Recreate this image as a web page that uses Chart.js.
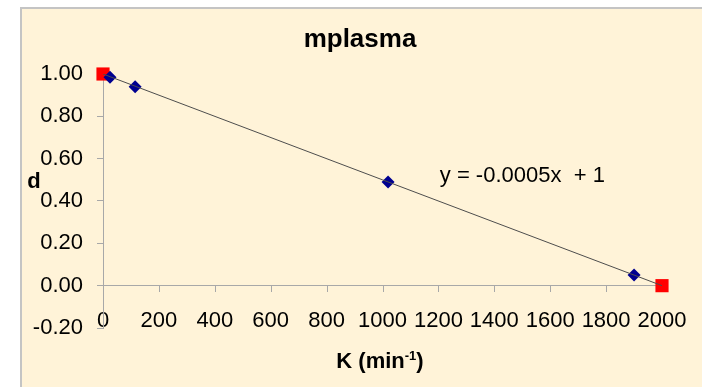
<!DOCTYPE html>
<html>
<head>
<meta charset="utf-8">
<script src="https://cdn.jsdelivr.net/npm/chart.js@4.4.1/dist/chart.umd.min.js"></script>
<style>
  html, body { margin: 0; padding: 0; background: #fff; }
</style>
</head>
<body>
<canvas id="grafico" width="702" height="387"></canvas>
<script>
// pontos medidos (losangos azuis)
const kMedidos = [25, 115, 1020, 1900];
const dMedidos = [0.985, 0.94, 0.49, 0.05];
// extremos (quadrados vermelhos)
const kExtremos = [0, 2000];
const dExtremos = [1.0, 0.0];
// linha de tendencia y = -0.0005x + 1
const kTendencia = [0, 2000];
const dTendencia = [1, 0];
// marcas dos eixos
const ticksX = [0, 200, 400, 600, 800, 1000, 1200, 1400, 1600, 1800, 2000];
const ticksY = [-0.2, 0, 0.2, 0.4, 0.6, 0.8, 1.0];

const FONTE = "'Liberation Sans', Arial, sans-serif";
const CINZA = '#a8a8a8';

const pares = (xs, ys) => xs.map((x, i) => ({ x: x, y: ys[i] }));

// fundo creme com borda cinza em cima e a esquerda
const fundo = {
    id: 'fundo',
    beforeDraw(chart) {
        const c = chart.ctx;
        c.save();
        c.fillStyle = '#fff';
        c.fillRect(0, 0, chart.width, chart.height);
        c.fillStyle = '#fff3d8';
        c.fillRect(22, 9, chart.width - 22, chart.height - 9);
        c.fillStyle = '#c4c4c4';
        c.fillRect(20, 7, chart.width - 20, 2);
        c.fillRect(20, 7, 2, chart.height - 7);
        c.restore();
    }
};

// titulo, marcas do eixo x sobre y = 0, equacao, rotulos dos eixos
const extras = {
    id: 'extras',
    beforeDatasetsDraw(chart) {
        const { ctx, scales: { x, y } } = chart;
        const y0 = Math.round(y.getPixelForValue(0));
        ctx.save();
        ctx.strokeStyle = CINZA;
        ctx.lineWidth = 1;
        x.ticks.forEach(t => {
            if (t.value === 0) return;
            const px = Math.round(x.getPixelForValue(t.value)) + 0.5;
            ctx.beginPath();
            ctx.moveTo(px, y0);
            ctx.lineTo(px, y0 + 6);
            ctx.stroke();
        });
        ctx.restore();
    },
    afterDraw(chart) {
        const { ctx, scales: { x, y } } = chart;
        ctx.save();
        ctx.fillStyle = '#000';
        ctx.textBaseline = 'middle';
        // titulo
        ctx.font = 'bold 26px ' + FONTE;
        ctx.textAlign = 'center';
        ctx.fillText('mplasma', 360, 40);
        // equacao da reta
        ctx.font = '22px ' + FONTE;
        ctx.textAlign = 'left';
        ctx.fillText('y = -0.0005x  + 1', x.getPixelForValue(1205), y.getPixelForValue(0.52));
        // rotulo do eixo y
        ctx.font = 'bold 22px ' + FONTE;
        ctx.textAlign = 'center';
        ctx.fillText('d', 34, y.getPixelForValue(0.49));
        // rotulo do eixo x com expoente
        const base = 'K (min', sup = '-1', fim = ')';
        ctx.font = 'bold 22px ' + FONTE;
        const w1 = ctx.measureText(base).width;
        const w3 = ctx.measureText(fim).width;
        ctx.font = 'bold 13px ' + FONTE;
        const w2 = ctx.measureText(sup).width;
        const cx = 380, cy = 362;
        let px = cx - (w1 + w2 + w3) / 2;
        ctx.textAlign = 'left';
        ctx.font = 'bold 22px ' + FONTE;
        ctx.fillText(base, px, cy);
        px += w1;
        ctx.font = 'bold 13px ' + FONTE;
        ctx.fillText(sup, px, cy - 6);
        px += w2;
        ctx.font = 'bold 22px ' + FONTE;
        ctx.fillText(fim, px, cy);
        ctx.restore();
    }
};

const ctx = document.getElementById('grafico').getContext('2d');
const grafico = new Chart(ctx, {
    type: 'scatter',
    data: {
        datasets: [
            {
                label: 'Tendência',
                data: pares(kTendencia, dTendencia),
                showLine: true,
                borderColor: '#4d4d4d',
                borderWidth: 1,
                pointRadius: 0,
                order: 1
            },
            {
                label: 'Medidos',
                data: pares(kMedidos, dMedidos),
                pointStyle: 'rectRot',
                pointRadius: 6.5,
                backgroundColor: '#000090',
                borderColor: '#000090',
                borderWidth: 0,
                clip: false,
                order: 2
            },
            {
                label: 'Extremos',
                data: pares(kExtremos, dExtremos),
                pointStyle: 'rect',
                pointRadius: 9.3,
                backgroundColor: '#ff0000',
                borderColor: '#ff0000',
                borderWidth: 0,
                clip: false,
                order: 3
            }
        ]
    },
    options: {
        responsive: false,
        animation: false,
        events: [],
        layout: { padding: { left: 0, right: 40, top: 74, bottom: 0 } },
        plugins: {
            legend: { display: false },
            tooltip: { enabled: false },
            title: { display: false }
        },
        scales: {
            x: {
                type: 'linear',
                min: 0,
                max: 2000,
                afterFit: s => {
                    s.height = 59;
                    // rotulos ficam acima do topo do eixo, sem recorte
                    s._computeLabelArea = () => null;
                },
                afterBuildTicks: s => { s.ticks = ticksX.map(v => ({ value: v })); },
                border: { display: false },
                grid: { display: false, drawTicks: false },
                ticks: {
                    padding: -20,
                    autoSkip: false,
                    maxRotation: 0,
                    color: '#000',
                    font: { family: FONTE, size: 22 },
                    callback: v => String(v)
                }
            },
            y: {
                min: -0.2,
                max: 1.0,
                afterFit: s => { s.width = 103; },
                afterBuildTicks: s => { s.ticks = ticksY.map(v => ({ value: v })); },
                border: { display: true, color: CINZA, width: 1 },
                grid: {
                    color: c => (c.tick && Math.abs(c.tick.value) < 1e-9) ? CINZA : 'rgba(0,0,0,0)',
                    tickColor: CINZA,
                    tickLength: 6,
                    lineWidth: 1
                },
                ticks: {
                    padding: 14,
                    color: '#000',
                    font: { family: FONTE, size: 22 },
                    callback: v => v.toFixed(2)
                }
            }
        }
    },
    plugins: [fundo, extras]
});
</script>
</body>
</html>
